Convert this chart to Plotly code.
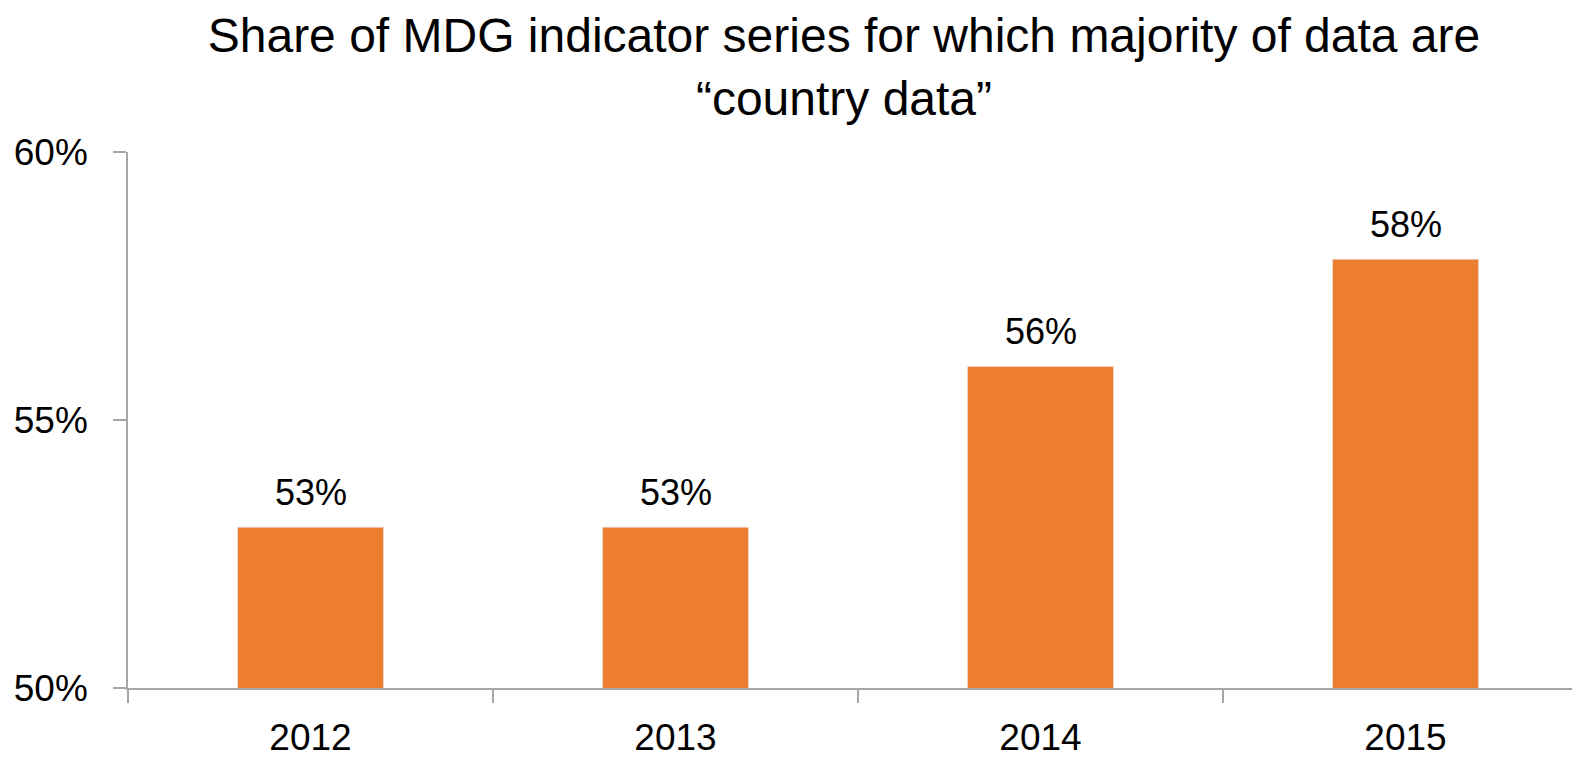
import plotly.graph_objects as go

years = ["2012", "2013", "2014", "2015"]
share = [53, 53, 56, 58]
labels = ["53%", "53%", "56%", "58%"]
y_ticks = [50, 55, 60]
y_tick_labels = ["50%", "55%", "60%"]

FONT = "Liberation Sans, Arial, sans-serif"

fig = go.Figure(go.Bar(
    x=years, y=share,
    marker=dict(color="#ED7D31"), width=0.4,
))

for i, (val, lab) in enumerate(zip(share, labels)):
    fig.add_annotation(
        x=i, y=val, xref="x", yref="y", text=lab, showarrow=False,
        xanchor="center", yanchor="bottom", yshift=12,
        font=dict(size=36, color="black", family=FONT),
    )

fig.update_layout(
    width=1572, height=754,
    margin=dict(l=120, r=0, t=144, b=74),
    plot_bgcolor="white", paper_bgcolor="white",
    showlegend=False,
    title=dict(
        text="Share of MDG indicator series for which majority of data are<br>\u201ccountry data\u201d",
        x=0.5318, xanchor="center", y=0.9412, yanchor="top",
        font=dict(size=48, color="black", family=FONT),
    ),
    font=dict(family=FONT, color="black"),
)
fig.update_xaxes(
    type="category",
    range=[-0.5, 3.478], showline=True, linecolor="#A6A6A6", linewidth=2,
    ticks="outside", tickson="boundaries", ticklen=13, tickcolor="#A6A6A6", tickwidth=2,
    tickfont=dict(size=37, family=FONT), showgrid=False, zeroline=False,
    ticklabelstandoff=16, automargin=False,
)
fig.update_yaxes(
    range=[50, 60], tickvals=y_ticks, ticktext=y_tick_labels,
    showline=True, linecolor="#A6A6A6", linewidth=1.5,
    ticks="outside", ticklen=13, tickcolor="#A6A6A6", tickwidth=1.5,
    tickfont=dict(size=37, family=FONT), showgrid=False, zeroline=False,
    ticklabelstandoff=18, automargin=False,
)

fig.write_html("out.html")
